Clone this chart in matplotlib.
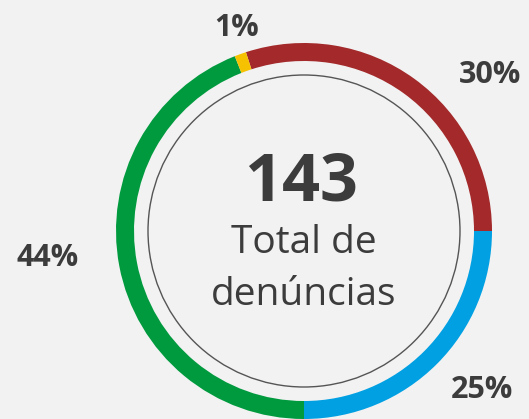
import matplotlib.pyplot as plt
from matplotlib.patches import Circle

plt.rcParams['font.family'] = ['Open Sans', 'DejaVu Sans']

# denúncias by category (percent)
shares = [30, 25, 44, 1]
colors = ['#a3292a', '#00a0e3', '#009a3e', '#f6c100']
labels = ['30%', '25%', '44%', '1%']
label_pos = [(490, 344), (482, 29), (48, 161), (237, 391)]
total = 143

fig = plt.figure(figsize=(5.29, 4.19), dpi=100)
fig.patch.set_facecolor('#f2f2f2')
ax = fig.add_axes([0, 0, 1, 1])
ax.set_facecolor('#f2f2f2')

cx, cy, R = 304, 188, 188
ax.pie(shares, colors=colors, startangle=108, counterclock=False,
       center=(cx, cy), radius=R,
       wedgeprops=dict(width=18, linewidth=0))
ax.add_patch(Circle((cx, cy), 156, fill=False, edgecolor='#555555', lw=1.0))

for lab, (x, y) in zip(labels, label_pos):
    ax.text(x, y, lab, ha='center', va='center', fontsize=22,
            fontweight='bold', color='#3c3c3c')

ax.text(cx - 3, 236, str(total), ha='center', va='center', fontsize=48,
        fontweight='bold', color='#3c3c3c')
ax.text(cx, 176, 'Total de', ha='center', va='center', fontsize=28,
        color='#3c3c3c')
ax.text(cx, 124, 'denúncias', ha='center', va='center', fontsize=28,
        color='#3c3c3c')

ax.set_xlim(0, 529)
ax.set_ylim(0, 419)
ax.set_aspect('equal')
ax.axis('off')

fig.savefig('out.png', dpi=100, facecolor=fig.get_facecolor())
